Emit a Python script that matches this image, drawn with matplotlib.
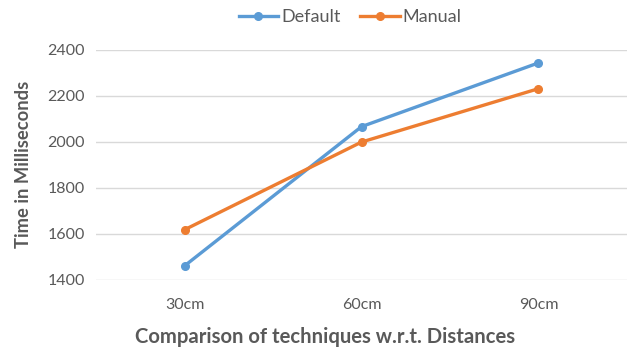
import matplotlib.pyplot as plt

# distances and timings (ms)
distances = ['30cm', '60cm', '90cm']
default_ms = [1460, 2065, 2342]
manual_ms = [1617, 1998, 2230]

plt.rcParams['font.family'] = ['Lato', 'DejaVu Sans']
txt = '#595959'

fig = plt.figure(figsize=(6.32, 3.54), dpi=100)
ax = fig.add_axes([0.152, 0.21, 0.84, 0.65])

x = range(len(distances))
ax.plot(x, default_ms, color='#5B9BD5', lw=2.4, marker='o', ms=5.5, label='Default')
ax.plot(x, manual_ms, color='#ED7D31', lw=2.4, marker='o', ms=5.5, label='Manual')

ax.set_xlim(-0.5, 2.5)
ax.set_ylim(1400, 2400)
ax.set_yticks(range(1400, 2401, 200))
ax.set_xticks(list(x))
ax.set_xticklabels(distances)
ax.grid(axis='y', color='#D9D9D9', lw=1)
ax.set_axisbelow(True)
for s in ax.spines.values():
    s.set_visible(False)
ax.tick_params(length=0, labelsize=11.5, colors=txt, pad=8)
ax.tick_params(axis='x', pad=13)

# axis titles (Excel centres the x title on the chart, not the plot)
fig.text(24 / 632, 0.5 + 0.035, 'Time in Milliseconds', rotation=90, ha='center', va='center',
         fontsize=13.2, fontweight='bold', color=txt)
fig.text(325 / 632, 1 - 337 / 354, 'Comparison of techniques w.r.t. Distances', ha='center',
         va='center', fontsize=14.6, fontweight='bold', color=txt)

fig.legend(loc='center', bbox_to_anchor=(0.554, 1 - 17 / 354), ncol=2, frameon=False,
           fontsize=13, labelcolor=txt, handlelength=2.2, columnspacing=1.1, handletextpad=0.15)

fig.savefig('out.png', dpi=100)
